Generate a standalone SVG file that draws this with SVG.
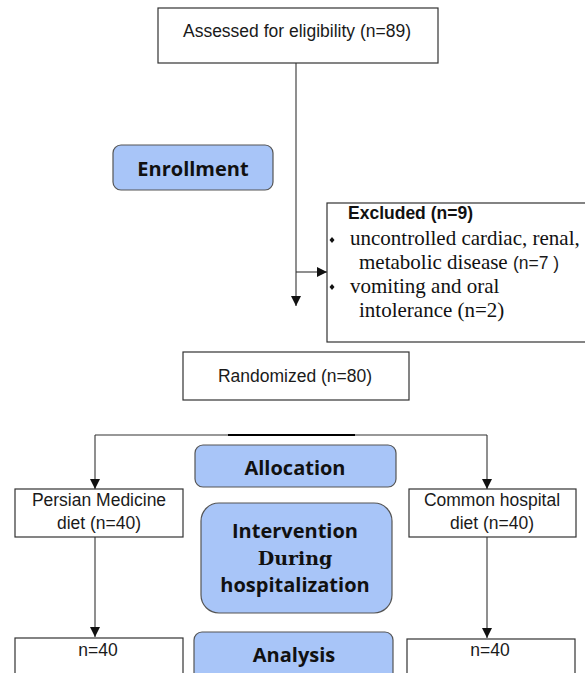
<svg xmlns="http://www.w3.org/2000/svg" width="585" height="673" viewBox="0 0 585 673">
<defs>
<style>
.box{fill:#fff;stroke:#333;stroke-width:1.2}
.phase{fill:#a8c5f8;stroke:#555;stroke-width:1.2}
.t{font-family:"Liberation Sans",Arial,sans-serif;font-size:17.5px;fill:#1a1a1a}
.tb{font-family:"Liberation Sans",Arial,sans-serif;font-size:17.5px;font-weight:bold;fill:#111}
.ts{font-family:"Liberation Serif","Times New Roman",serif;font-size:21px;fill:#111}
.ph{font-family:"Open Sans","Noto Sans",sans-serif;font-size:20px;font-weight:bold;fill:#111}
.phs{font-family:"DejaVu Serif","Liberation Serif",serif;font-size:19px;font-weight:bold;fill:#111}
.c{fill:none;stroke:#333;stroke-width:1.1}
</style>
<marker id="ah" viewBox="0 0 10 10" refX="10" refY="5" markerWidth="10" markerHeight="10" markerUnits="userSpaceOnUse" orient="auto">
<path d="M0,0 L10,5 L0,10 Z" fill="#111"/>
</marker>
</defs>

<g id="connectors">
<path class="c" d="M296,63 V306" marker-end="url(#ah)"/>
<path class="c" d="M296,272 H327" marker-end="url(#ah)"/>
<path class="c" d="M95,435 H487"/>
<path d="M228,435 H355" stroke="#000" stroke-width="2" fill="none"/>
<path class="c" d="M95,435 V489" marker-end="url(#ah)"/>
<path class="c" d="M487,435 V489" marker-end="url(#ah)"/>
<path class="c" d="M95,537 V637" marker-end="url(#ah)"/>
<path class="c" d="M487,537 V638" marker-end="url(#ah)"/>
</g>

<g id="assessed">
<rect class="box" x="158" y="8" width="280" height="55"/>
<text class="t" x="297" y="37" text-anchor="middle">Assessed for eligibility (n=89)</text>
</g>

<g id="enrollment">
<rect class="phase" x="113" y="145" width="160" height="45" rx="8"/>
<text class="ph" x="193" y="176" text-anchor="middle">Enrollment</text>
</g>

<g id="excluded">
<rect class="box" x="327" y="203" width="270" height="139"/>
<text class="tb" x="348" y="219">Excluded (n=9)</text>
<path d="M332,237 l2.5,3 l-2.5,3 l-2.5,-3 Z" fill="#111"/>
<text class="ts" x="350" y="245">uncontrolled cardiac, renal,</text>
<text class="ts" x="359" y="269">metabolic disease <tspan class="t" font-size="16px">(n=7 )</tspan></text>
<path d="M332,284 l2.5,3 l-2.5,3 l-2.5,-3 Z" fill="#111"/>
<text class="ts" x="350" y="293">vomiting and oral</text>
<text class="ts" x="359" y="317">intolerance (n=2)</text>
</g>

<g id="randomized">
<rect class="box" x="183" y="352" width="226" height="48"/>
<text class="t" x="295" y="382" text-anchor="middle">Randomized (n=80)</text>
</g>

<g id="allocation">
<rect class="phase" x="195" y="445" width="201" height="42" rx="8"/>
<text class="ph" x="295" y="475" text-anchor="middle">Allocation</text>
</g>

<g id="persian">
<rect class="box" x="15" y="489" width="168" height="48"/>
<text class="t" x="99" y="506" text-anchor="middle">Persian Medicine</text>
<text class="t" x="99" y="529" text-anchor="middle">diet (n=40)</text>
</g>

<g id="common">
<rect class="box" x="409" y="489" width="167" height="48"/>
<text class="t" x="492" y="506" text-anchor="middle">Common hospital</text>
<text class="t" x="492" y="529" text-anchor="middle">diet (n=40)</text>
</g>

<g id="intervention">
<rect class="phase" x="201" y="503" width="191" height="110" rx="18"/>
<text class="ph" x="295" y="538" text-anchor="middle">Intervention</text>
<text class="phs" x="295" y="565" text-anchor="middle">During</text>
<text class="ph" x="295" y="592" text-anchor="middle" font-size="19.5px">hospitalization</text>
</g>

<g id="analysis">
<rect class="phase" x="194" y="632" width="199" height="60" rx="8"/>
<text class="ph" x="294" y="662" text-anchor="middle">Analysis</text>
</g>

<g id="n40left">
<rect class="box" x="15" y="638" width="168" height="50"/>
<text class="t" x="98" y="656" text-anchor="middle">n=40</text>
</g>

<g id="n40right">
<rect class="box" x="407" y="639" width="168" height="50"/>
<text class="t" x="490" y="656" text-anchor="middle">n=40</text>
</g>
</svg>
